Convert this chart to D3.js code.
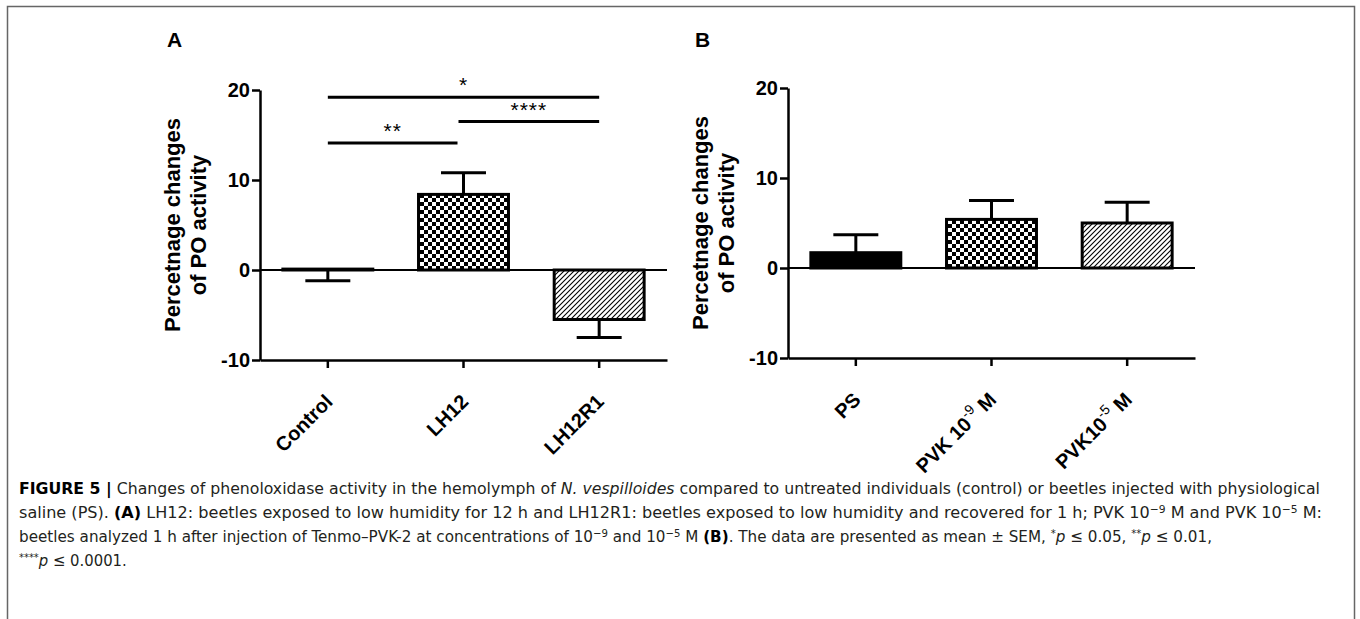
<!DOCTYPE html>
<html>
<head>
<meta charset="utf-8">
<script src="https://cdn.jsdelivr.net/npm/d3@7"></script>
<style>
  body { margin: 0; background: #fff; }
  svg { display: block; }
</style>
</head>
<body>
<div id="container"></div>
<script>
// panel A data
const catsA = ["Control", "LH12", "LH12R1"];
const meansA = [0.1, 8.4, -5.5];
const errTipA = [-1.2, 10.8, -7.5];
const fillsA = ["solid", "checker", "hatch"];

// panel B data
const catsB = ["PS", "PVK 10-9 M", "PVK10-5 M"];
const labelsB = [["PS"], ["PVK 10", "-9", " M"], ["PVK10", "-5", " M"]];
const meansB = [1.7, 5.4, 5.0];
const errTipB = [3.7, 7.5, 7.3];
const fillsB = ["solid", "checker", "hatch"];

const yTicks = [-10, 0, 10, 20];
const yTitle = ["Percetnage changes", "of PO activity"];

// significance brackets for A: [from, to, height, stars]
const sigFrom = [0, 1, 0];
const sigTo = [1, 2, 2];
const sigY = [14.1, 16.5, 19.2];
const sigText = ["**", "****", "*"];

const W = 407, H = 270;
const axisFont = "'Liberation Sans', Arial, sans-serif";

const svg = d3.select("#container").append("svg")
  .attr("width", 1360)
  .attr("height", 619);

const defs = svg.append("defs");
const checker = defs.append("pattern")
  .attr("id", "checker")
  .attr("patternUnits", "userSpaceOnUse")
  .attr("width", 8).attr("height", 8);
checker.append("rect").attr("width", 8).attr("height", 8).attr("fill", "#fff");
checker.append("rect").attr("width", 4).attr("height", 4).attr("fill", "#000");
checker.append("rect").attr("x", 4).attr("y", 4).attr("width", 4).attr("height", 4).attr("fill", "#000");

const hatch = defs.append("pattern")
  .attr("id", "hatch")
  .attr("patternUnits", "userSpaceOnUse")
  .attr("width", 5).attr("height", 5);
hatch.append("rect").attr("width", 5).attr("height", 5).attr("fill", "#fff");
hatch.append("path")
  .attr("d", "M0,5 L5,0 M-1,1 L1,-1 M4,6 L6,4")
  .attr("stroke", "#000")
  .attr("stroke-width", 1.1);

// frame
svg.append("rect")
  .attr("x", 7.5).attr("y", 6.5)
  .attr("width", 1347).attr("height", 640)
  .attr("fill", "none")
  .attr("stroke", "#666")
  .attr("stroke-width", 1.5);

function fillFor(f) {
  if (f === "solid") return "#000";
  return `url(#${f})`;
}

function drawPanel(o) {
  const g = svg.append("g").attr("transform", `translate(${o.left},${o.top})`);
  const x = d3.scaleBand().domain(o.cats).range([0, W])
    .paddingInner(0.337).paddingOuter(0.1685);
  const y = d3.scaleLinear().domain([-10, 20]).range([H, 0]);
  const bw = x.bandwidth();

  // zero line
  g.append("line")
    .attr("x1", 0).attr("x2", W)
    .attr("y1", y(0)).attr("y2", y(0))
    .attr("stroke", "#000").attr("stroke-width", 2);

  // error bars
  o.cats.forEach((c, i) => {
    const cx = x(c) + bw / 2;
    g.append("line")
      .attr("x1", cx).attr("x2", cx)
      .attr("y1", y(o.means[i])).attr("y2", y(o.errTip[i]))
      .attr("stroke", "#000").attr("stroke-width", 3);
    g.append("line")
      .attr("x1", cx - bw / 4).attr("x2", cx + bw / 4)
      .attr("y1", y(o.errTip[i])).attr("y2", y(o.errTip[i]))
      .attr("stroke", "#000").attr("stroke-width", 3);
  });

  // bars
  g.selectAll("rect.bar")
    .data(o.cats)
    .enter()
    .append("rect")
    .attr("class", "bar")
    .attr("x", c => x(c))
    .attr("width", bw)
    .attr("y", (c, i) => y(Math.max(0, o.means[i])))
    .attr("height", (c, i) => Math.abs(y(o.means[i]) - y(0)))
    .attr("fill", (c, i) => fillFor(o.fills[i]))
    .attr("stroke", "#000")
    .attr("stroke-width", 3);

  // axes
  const yAxis = g.append("g")
    .call(d3.axisLeft(y).tickValues(yTicks).tickSize(8).tickSizeOuter(0)
      .tickPadding(2).tickFormat(d => String(d)));
  const xAxis = g.append("g")
    .attr("transform", `translate(0,${H})`)
    .call(d3.axisBottom(x).tickSize(8).tickSizeOuter(0).tickFormat(""));
  [yAxis, xAxis].forEach(a => {
    a.selectAll("path, line").attr("stroke", "#000").attr("stroke-width", 2.5);
  });
  yAxis.selectAll("text")
    .attr("fill", "#000")
    .style("font-family", axisFont)
    .style("font-size", "20px")
    .style("font-weight", "bold");

  // x labels, rotated
  o.labels.forEach((parts, i) => {
    const cx = x(o.cats[i]) + bw / 2;
    const t = g.append("text")
      .attr("transform", `translate(${cx + 6},${H + 43}) rotate(-45)`)
      .attr("text-anchor", "end")
      .style("font-family", axisFont)
      .style("font-size", "20px")
      .style("font-weight", "bold");
    if (parts.length === 1) {
      t.text(parts[0]);
    } else {
      t.append("tspan").text(parts[0]);
      t.append("tspan").attr("dy", -9).style("font-size", "14px")
        .style("font-weight", "normal").text(parts[1]);
      t.append("tspan").attr("dy", 9).text(parts[2]);
    }
  });

  // y title
  yTitle.forEach((s, k) => {
    g.append("text")
      .attr("transform", `translate(${k === 0 ? -80 : -54},${H / 2}) rotate(-90)`)
      .attr("text-anchor", "middle")
      .style("font-family", axisFont)
      .style("font-size", "22px")
      .style("font-weight", "bold")
      .text(s);
  });

  // panel letter
  svg.append("text")
    .attr("x", o.left - 93).attr("y", 47)
    .style("font-family", axisFont)
    .style("font-size", "21px")
    .style("font-weight", "bold")
    .text(o.letter);

  return { g, x, y, bw };
}

const pA = drawPanel({ left: 260, top: 90, cats: catsA, labels: catsA.map(c => [c]),
  means: meansA, errTip: errTipA, fills: fillsA, letter: "A" });
drawPanel({ left: 788, top: 88, cats: catsB, labels: labelsB,
  means: meansB, errTip: errTipB, fills: fillsB, letter: "B" });

// significance lines on panel A
sigText.forEach((s, i) => {
  const x1 = pA.x(catsA[sigFrom[i]]) + pA.bw / 2 + (sigFrom[i] === 1 ? -5 : 0);
  const x2 = pA.x(catsA[sigTo[i]]) + pA.bw / 2 + (sigTo[i] === 1 ? -6 : 0);
  const yy = pA.y(sigY[i]);
  pA.g.append("line")
    .attr("x1", x1).attr("x2", x2)
    .attr("y1", yy).attr("y2", yy)
    .attr("stroke", "#000").attr("stroke-width", 3);
  pA.g.append("text")
    .attr("x", (x1 + x2) / 2).attr("y", yy - 5)
    .attr("text-anchor", "middle")
    .attr("letter-spacing", 1)
    .style("font-family", axisFont)
    .style("font-size", "21px")
    .text(s);
});

// caption
const capFont = "'Liberation Sans Narrow', 'DejaVu Sans Condensed', 'Arial Narrow', sans-serif";
const capLines = [
  { y: 494, len: 1301, parts: [
    ["FIGURE 5 |", "b"], [" Changes of phenoloxidase activity in the hemolymph of ", ""],
    ["N. vespilloides", "i"], [" compared to untreated individuals (control) or beetles injected with physiological", ""]] },
  { y: 518, len: 1303, parts: [
    ["saline (PS). ", ""], ["(A)", "b"],
    [" LH12: beetles exposed to low humidity for 12 h and LH12R1: beetles exposed to low humidity and recovered for 1 h; PVK 10", ""],
    ["\u22129", "sup"], [" M and PVK 10", ""], ["\u22125", "sup"], [" M:", ""]] },
  { y: 542, len: 1193, parts: [
    ["beetles analyzed 1 h after injection of Tenmo\u2013PVK-2 at concentrations of 10", ""], ["\u22129", "sup"],
    [" and 10", ""], ["\u22125", "sup"], [" M ", ""], ["(B)", "b"],
    [". The data are presented as mean \u00b1 SEM, ", ""], ["*", "sup"], ["p", "i"], [" \u2264 0.05, ", ""],
    ["**", "sup"], ["p", "i"], [" \u2264 0.01,", ""]] },
  { y: 566, len: null, parts: [["****", "sup"], ["p", "i"], [" \u2264 0.0001.", ""]] }
];

capLines.forEach(line => {
  const t = svg.append("text")
    .attr("x", 19).attr("y", line.y)
    .attr("fill", "#231f20")
    .style("font-family", capFont)
    .style("font-size", "16.5px");
  if (line.len) t.attr("textLength", line.len).attr("lengthAdjust", "spacingAndGlyphs");
  let up = false;
  line.parts.forEach(([s, st]) => {
    const ts = t.append("tspan").text(s);
    if (st === "b") ts.style("font-weight", "bold").attr("fill", "#000");
    if (st === "i") ts.style("font-style", "italic");
    if (st === "sup") {
      ts.attr("dy", -5).style("font-size", "11px");
      up = true;
    } else if (up) {
      ts.attr("dy", 5);
      up = false;
    }
  });
});
</script>
</body>
</html>
